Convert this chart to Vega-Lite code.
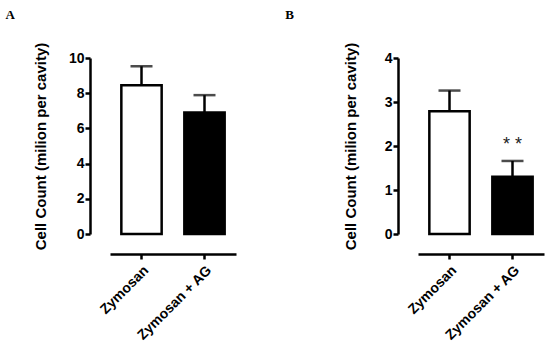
{
 "$schema": "https://vega.github.io/schema/vega-lite/v6.json",
 "background": "white",
 "padding": {"left": 5, "top": 9, "right": 5, "bottom": 5},
 "spacing": 49,
 "datasets": {
  "a": [{"group": "Zymosan", "value": 8.45, "err": 9.53}, {"group": "Zymosan + AG", "value": 6.9, "err": 7.89}],
  "b": [{"group": "Zymosan", "value": 2.79, "err": 3.26, "sig": ""}, {"group": "Zymosan + AG", "value": 1.3, "err": 1.66, "sig": "* *"}]
 },
 "config": {
  "view": {"stroke": null},
  "font": "Liberation Sans",
  "axis": {"domainColor": "black", "domainWidth": 2.5, "tickColor": "black", "tickWidth": 2.5, "tickSize": 5, "labelFont": "Liberation Sans", "labelFontWeight": "bold", "labelFontSize": 14, "labelColor": "black", "titleFont": "Liberation Sans", "titleFontWeight": "bold", "titleFontSize": 15, "titleColor": "black", "grid": false},
  "title": {"font": "Liberation Serif", "fontWeight": "bold", "fontSize": 13, "anchor": "start", "frame": "bounds", "color": "black"}
 },
 "hconcat": [
  {
   "width": 126, "height": 176,
   "title": {"text": "A", "dx": -28, "offset": 20},
   "data": {"name": "a"},
   "encoding": {"x": {"field": "group", "type": "nominal", "sort": null, "scale": {"paddingInner": 0, "paddingOuter": 0}, "axis": {"title": null, "labelAngle": -45, "offset": 20, "labelPadding": 4}}},
   "layer": [
    {"mark": {"type": "bar", "stroke": "black", "strokeWidth": 2.5, "width": {"band": 0.64}},
     "encoding": {"y": {"field": "value", "type": "quantitative", "scale": {"domain": [0, 10]}, "axis": {"title": "Cell Count (milion per cavity)", "values": [0, 2, 4, 6, 8, 10], "offset": 20, "titlePadding": 20, "labelPadding": 1}},
      "fill": {"field": "group", "type": "nominal", "sort": null, "scale": {"range": ["white", "black"]}, "legend": null}}},
    {"mark": {"type": "rule", "color": "black", "strokeWidth": 2.5},
     "encoding": {"y": {"field": "value", "type": "quantitative", "axis": {"title": "Cell Count (milion per cavity)", "values": [0, 2, 4, 6, 8, 10], "offset": 20, "titlePadding": 20, "labelPadding": 1}}, "y2": {"field": "err"}}},
    {"mark": {"type": "tick", "color": "black", "thickness": 2.5, "size": 22},
     "encoding": {"y": {"field": "err", "type": "quantitative", "axis": {"title": "Cell Count (milion per cavity)", "values": [0, 2, 4, 6, 8, 10], "offset": 20, "titlePadding": 20, "labelPadding": 1}}}}
   ]
  },
  {
   "width": 126, "height": 176,
   "title": {"text": "B", "dx": -58, "offset": 20},
   "data": {"name": "b"},
   "encoding": {"x": {"field": "group", "type": "nominal", "sort": null, "scale": {"paddingInner": 0, "paddingOuter": 0}, "axis": {"title": null, "labelAngle": -45, "offset": 20, "labelPadding": 4}}},
   "layer": [
    {"mark": {"type": "bar", "stroke": "black", "strokeWidth": 2.5, "width": {"band": 0.64}},
     "encoding": {"y": {"field": "value", "type": "quantitative", "scale": {"domain": [0, 4]}, "axis": {"title": "Cell Count (milion per cavity)", "values": [0, 1, 2, 3, 4], "offset": 20, "titlePadding": 26, "labelPadding": 1}},
      "fill": {"field": "group", "type": "nominal", "sort": null, "scale": {"range": ["white", "black"]}, "legend": null}}},
    {"mark": {"type": "rule", "color": "black", "strokeWidth": 2.5},
     "encoding": {"y": {"field": "value", "type": "quantitative", "axis": {"title": "Cell Count (milion per cavity)", "values": [0, 1, 2, 3, 4], "offset": 20, "titlePadding": 26, "labelPadding": 1}}, "y2": {"field": "err"}}},
    {"mark": {"type": "tick", "color": "black", "thickness": 2.5, "size": 22},
     "encoding": {"y": {"field": "err", "type": "quantitative", "axis": {"title": "Cell Count (milion per cavity)", "values": [0, 1, 2, 3, 4], "offset": 20, "titlePadding": 26, "labelPadding": 1}}}},
    {"mark": {"type": "text", "dy": -16, "fontSize": 18, "fontWeight": "normal", "color": "#222", "baseline": "middle"},
     "encoding": {"y": {"field": "err", "type": "quantitative", "axis": {"title": "Cell Count (milion per cavity)", "values": [0, 1, 2, 3, 4], "offset": 20, "titlePadding": 26, "labelPadding": 1}}, "text": {"field": "sig"}}}
   ]
  }
 ]
}
